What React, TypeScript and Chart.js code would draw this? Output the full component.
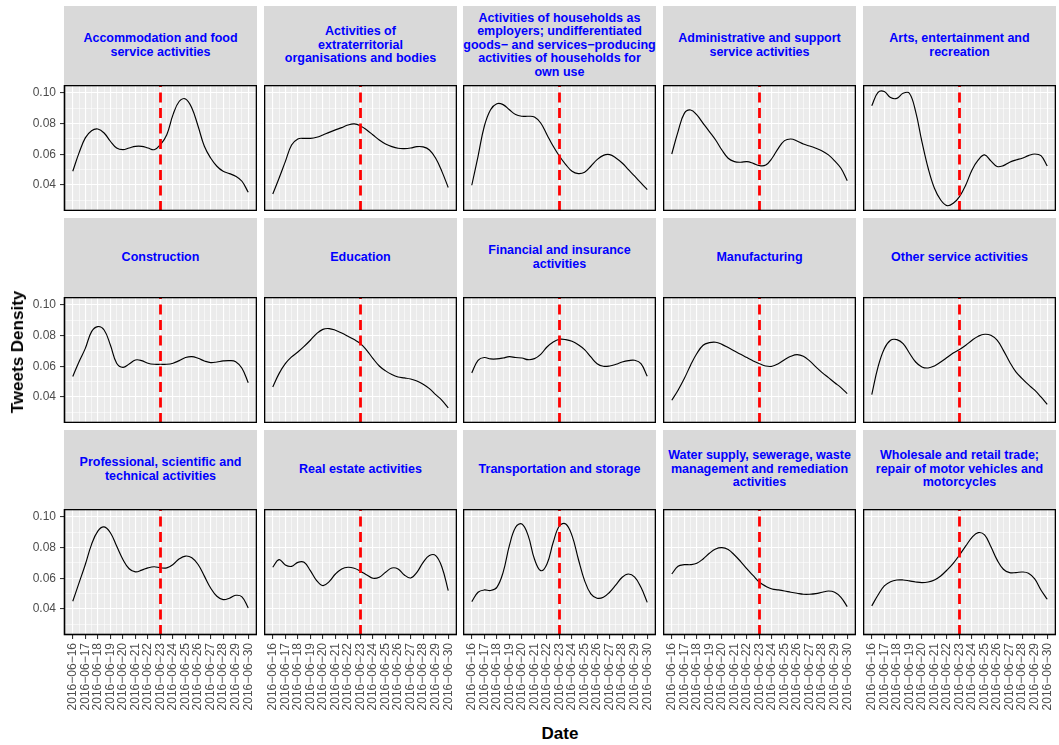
import React, { useEffect, useRef } from "react";
import { Chart, registerables } from "chart.js";

Chart.register(...registerables);

// ---------- data ----------
const days = [16, 16.5, 17, 17.5, 18, 18.5, 19, 19.5, 20, 20.5, 21, 21.5, 22, 22.5, 23, 23.5, 24, 24.5, 25, 25.5, 26, 26.5, 27, 27.5, 28, 28.5, 29, 29.5, 30];
const dateTickDays = [16, 17, 18, 19, 20, 21, 22, 23, 24, 25, 26, 27, 28, 29, 30];
const dateTickLabels = [
  "2016\u221206\u221216", "2016\u221206\u221217", "2016\u221206\u221218", "2016\u221206\u221219", "2016\u221206\u221220",
  "2016\u221206\u221221", "2016\u221206\u221222", "2016\u221206\u221223", "2016\u221206\u221224", "2016\u221206\u221225",
  "2016\u221206\u221226", "2016\u221206\u221227", "2016\u221206\u221228", "2016\u221206\u221229", "2016\u221206\u221230",
];
const referendumDay = 23;
const yMajorTicks = [0.04, 0.06, 0.08, 0.1];
const yMinorTicks = [0.03, 0.05, 0.07, 0.09];

const facetTitles = [
  "Accommodation and food\nservice activities",
  "Activities of\nextraterritorial\norganisations and bodies",
  "Activities of households as\nemployers; undifferentiated\ngoods\u2212 and services\u2212producing\nactivities of households for\nown use",
  "Administrative and support\nservice activities",
  "Arts, entertainment and\nrecreation",
  "Construction",
  "Education",
  "Financial and insurance\nactivities",
  "Manufacturing",
  "Other service activities",
  "Professional, scientific and\ntechnical activities",
  "Real estate activities",
  "Transportation and storage",
  "Water supply, sewerage, waste\nmanagement and remediation\nactivities",
  "Wholesale and retail trade;\nrepair of motor vehicles and\nmotorcycles",
];

const accommodation = [0.0489, 0.0609, 0.0707, 0.0754, 0.0765, 0.0739, 0.0685, 0.0641, 0.063, 0.0641, 0.0652, 0.0652, 0.0641, 0.063, 0.0663, 0.0728, 0.0859, 0.0946, 0.0961, 0.0902, 0.0783, 0.0652, 0.0576, 0.0522, 0.0489, 0.0474, 0.0457, 0.0424, 0.0352];
const extraterritorial = [0.0341, 0.0444, 0.0552, 0.066, 0.07, 0.0704, 0.0704, 0.0711, 0.0726, 0.0743, 0.0759, 0.0774, 0.0791, 0.0798, 0.0785, 0.0759, 0.0726, 0.0693, 0.0667, 0.065, 0.0639, 0.0637, 0.0641, 0.065, 0.0648, 0.0628, 0.0574, 0.0487, 0.0383];
const households = [0.0398, 0.0587, 0.0783, 0.0891, 0.093, 0.0924, 0.0891, 0.0859, 0.0848, 0.0848, 0.0843, 0.0804, 0.0728, 0.0652, 0.0587, 0.0533, 0.0489, 0.0474, 0.0483, 0.0522, 0.0565, 0.0593, 0.0598, 0.0576, 0.0543, 0.05, 0.0457, 0.0413, 0.037];
const administrative = [0.0602, 0.0748, 0.0867, 0.0889, 0.0857, 0.0802, 0.0748, 0.0693, 0.0628, 0.0574, 0.0552, 0.0548, 0.0552, 0.0541, 0.0526, 0.053, 0.0574, 0.0639, 0.0689, 0.07, 0.0687, 0.0667, 0.0654, 0.0639, 0.0622, 0.0596, 0.0557, 0.0509, 0.0428];
const arts = [0.0917, 0.1004, 0.1009, 0.097, 0.0965, 0.0998, 0.0998, 0.0878, 0.0683, 0.0509, 0.0378, 0.0302, 0.0265, 0.028, 0.0324, 0.04, 0.0498, 0.0563, 0.0596, 0.0557, 0.052, 0.0526, 0.0548, 0.0563, 0.0574, 0.0591, 0.0602, 0.0591, 0.0524];
const construction = [0.0533, 0.063, 0.0717, 0.0826, 0.0859, 0.0837, 0.0739, 0.062, 0.0593, 0.0615, 0.0641, 0.0637, 0.062, 0.0613, 0.0613, 0.0613, 0.062, 0.0637, 0.0657, 0.0663, 0.0652, 0.0635, 0.0624, 0.0628, 0.0635, 0.0637, 0.063, 0.0587, 0.0493];
const education = [0.0465, 0.0552, 0.0617, 0.0661, 0.0693, 0.073, 0.077, 0.0813, 0.0841, 0.0846, 0.0835, 0.0817, 0.0796, 0.0774, 0.0748, 0.0704, 0.065, 0.0602, 0.057, 0.0546, 0.053, 0.0524, 0.0517, 0.0504, 0.0483, 0.0454, 0.0415, 0.0378, 0.0328];
const financial = [0.0557, 0.0639, 0.0657, 0.0648, 0.0648, 0.0654, 0.0663, 0.0657, 0.0654, 0.0643, 0.065, 0.0678, 0.0726, 0.0759, 0.0776, 0.0774, 0.0763, 0.0741, 0.0709, 0.0661, 0.0617, 0.06, 0.0602, 0.0613, 0.0628, 0.0637, 0.0639, 0.0617, 0.0535];
const manufacturing = [0.0378, 0.0444, 0.052, 0.0607, 0.0683, 0.0737, 0.0754, 0.0757, 0.0743, 0.0722, 0.07, 0.0678, 0.0657, 0.0635, 0.0617, 0.0602, 0.06, 0.0617, 0.0643, 0.0665, 0.0676, 0.0665, 0.0635, 0.0596, 0.0559, 0.0526, 0.0493, 0.0461, 0.0422];
const otherServices = [0.0415, 0.0596, 0.0715, 0.077, 0.0774, 0.0748, 0.0687, 0.0628, 0.0596, 0.0589, 0.0602, 0.0628, 0.0657, 0.0687, 0.0709, 0.0737, 0.077, 0.0796, 0.0809, 0.0802, 0.077, 0.0704, 0.0628, 0.0563, 0.052, 0.048, 0.0444, 0.04, 0.0352];
const professional = [0.045, 0.057, 0.069, 0.0821, 0.0908, 0.0935, 0.0897, 0.081, 0.0723, 0.0662, 0.0642, 0.0653, 0.0668, 0.0675, 0.0668, 0.0668, 0.069, 0.0727, 0.0745, 0.0734, 0.069, 0.0614, 0.0537, 0.0483, 0.0461, 0.047, 0.0489, 0.0479, 0.0407];
const realEstate = [0.0672, 0.0722, 0.0687, 0.0678, 0.0704, 0.0704, 0.065, 0.0585, 0.0552, 0.0578, 0.0628, 0.0661, 0.0672, 0.0665, 0.0646, 0.0622, 0.06, 0.0607, 0.0639, 0.0667, 0.0661, 0.0622, 0.0602, 0.0639, 0.0704, 0.0748, 0.0748, 0.0672, 0.052];
const transportation = [0.0448, 0.0509, 0.0524, 0.052, 0.0541, 0.0639, 0.0813, 0.0933, 0.0954, 0.0878, 0.0726, 0.065, 0.0693, 0.0835, 0.0943, 0.0954, 0.0878, 0.0726, 0.0585, 0.0498, 0.047, 0.0476, 0.0509, 0.0557, 0.0607, 0.0628, 0.0607, 0.0541, 0.0443];
const water = [0.0628, 0.0678, 0.0689, 0.0689, 0.0698, 0.0726, 0.0763, 0.0791, 0.08, 0.0787, 0.0752, 0.0709, 0.0661, 0.0617, 0.0574, 0.0548, 0.053, 0.0524, 0.0517, 0.0509, 0.0502, 0.0496, 0.0496, 0.05, 0.0509, 0.0517, 0.0509, 0.0476, 0.0415];
const wholesale = [0.042, 0.0491, 0.055, 0.0578, 0.0589, 0.0589, 0.0583, 0.0576, 0.0572, 0.0576, 0.0589, 0.0615, 0.0654, 0.0698, 0.0752, 0.0811, 0.0867, 0.0898, 0.0883, 0.0807, 0.072, 0.0659, 0.0637, 0.0637, 0.0641, 0.0633, 0.0596, 0.0524, 0.0463];

const seriesList = [
  accommodation, extraterritorial, households, administrative, arts,
  construction, education, financial, manufacturing, otherServices,
  professional, realEstate, transportation, water, wholesale,
];

// ---------- layout ----------
const FONT = '"Liberation Sans", Arial, Helvetica, sans-serif';
const COL_LEFT = [64, 264, 463, 663, 863];
const STRIP_TOP = [6, 218, 430];
const STRIP_H = 79;
const PANEL_W = 193;
const PANEL_H = 126;
const Y_AXIS_W = 40;
const X_AXIS_H = 80;
const X_MIN = 15.3;
const X_MAX = 30.7;
const Y_MIN = 0.023;
const Y_MAX = 0.1052;

const isYMajor = (v: number) => yMajorTicks.some((t) => Math.abs(t - v) < 1e-9);
const isXMajor = (v: number) => Math.abs(v - Math.round(v)) < 1e-9;

const panelPlugin = {
  id: "panelDecor",
  beforeDraw(chart: any) {
    const { ctx, chartArea } = chart;
    ctx.save();
    ctx.fillStyle = "#EBEBEB";
    ctx.fillRect(chartArea.left, chartArea.top, chartArea.right - chartArea.left, chartArea.bottom - chartArea.top);
    ctx.restore();
  },
  afterDraw(chart: any) {
    const { ctx, chartArea } = chart;
    ctx.save();
    ctx.strokeStyle = "#000000";
    ctx.lineWidth = 1.6;
    ctx.strokeRect(chartArea.left + 0.5, chartArea.top + 0.5, chartArea.right - chartArea.left - 1, chartArea.bottom - chartArea.top - 1);
    ctx.restore();
  },
};

function Panel({ index }: { index: number }) {
  const ref = useRef<HTMLCanvasElement | null>(null);
  const row = Math.floor(index / 5);
  const col = index % 5;
  const isLeft = col === 0;
  const isBottom = row === 2;
  const axisW = isLeft ? Y_AXIS_W : 0;
  const axisH = isBottom ? X_AXIS_H : 0;
  const width = PANEL_W + axisW;
  const height = PANEL_H + axisH;
  const left = COL_LEFT[col] - axisW;
  const top = STRIP_TOP[row] + STRIP_H;

  useEffect(() => {
    if (!ref.current) return;
    const values = seriesList[index];
    const chart = new Chart(ref.current, {
      type: "line",
      data: {
        datasets: [
          {
            data: [
              { x: referendumDay, y: Y_MIN },
              { x: referendumDay, y: Y_MAX },
            ],
            borderColor: "#FF0000",
            borderWidth: 2.8,
            borderDash: [10, 5.5],
            pointRadius: 0,
            fill: false,
            tension: 0,
          },
          {
            data: days.map((d, i) => ({ x: d, y: values[i] })),
            borderColor: "#000000",
            borderWidth: 1.15,
            pointRadius: 0,
            fill: false,
            tension: 0.4,
          },
        ],
      },
      options: {
        animation: false,
        responsive: false,
        maintainAspectRatio: false,
        events: [],
        layout: { padding: 0 },
        plugins: { legend: { display: false }, tooltip: { enabled: false } },
        scales: {
          x: {
            type: "linear",
            min: X_MIN,
            max: X_MAX,
            position: "bottom",
            afterBuildTicks: (s: any) => {
              s.ticks = days.map((v) => ({ value: v }));
            },
            afterFit: (s: any) => {
              s.height = axisH;
              s.paddingLeft = 0;
              s.paddingRight = 0;
              s.paddingTop = 0;
              s.paddingBottom = 0;
            },
            border: { display: false },
            grid: {
              color: "#FFFFFF",
              lineWidth: (c: any) => (c.tick && isXMajor(c.tick.value) ? 1.1 : 0.55),
              drawTicks: isBottom,
              tickLength: 4,
              tickWidth: 1.1,
              tickColor: (c: any) => (c.tick && isXMajor(c.tick.value) ? "#333333" : "rgba(0,0,0,0)"),
            },
            ticks: {
              display: isBottom,
              autoSkip: false,
              minRotation: 90,
              maxRotation: 90,
              padding: 4,
              color: "#4D4D4D",
              font: { family: FONT, size: 12 },
              callback: (v: any) => {
                const i = dateTickDays.indexOf(Number(v));
                return i >= 0 ? dateTickLabels[i] : "";
              },
            },
          },
          y: {
            type: "linear",
            min: Y_MIN,
            max: Y_MAX,
            afterBuildTicks: (s: any) => {
              s.ticks = [...yMinorTicks, ...yMajorTicks].sort((a, b) => a - b).map((v) => ({ value: v }));
            },
            afterFit: (s: any) => {
              s.width = axisW;
              s.paddingLeft = 0;
              s.paddingRight = 0;
              s.paddingTop = 0;
              s.paddingBottom = 0;
            },
            border: { display: false },
            grid: {
              color: "#FFFFFF",
              lineWidth: (c: any) => (c.tick && isYMajor(c.tick.value) ? 1.1 : 0.55),
              drawTicks: isLeft,
              tickLength: 4,
              tickWidth: 1.1,
              tickColor: (c: any) => (c.tick && isYMajor(c.tick.value) ? "#333333" : "rgba(0,0,0,0)"),
            },
            ticks: {
              display: isLeft,
              autoSkip: false,
              padding: 4,
              color: "#4D4D4D",
              font: { family: FONT, size: 12 },
              callback: (v: any) => (isYMajor(Number(v)) ? Number(v).toFixed(2) : ""),
            },
          },
        },
      },
      plugins: [panelPlugin],
    } as any);
    return () => chart.destroy();
  }, [index]);

  return (
    <>
      <div
        style={{
          position: "absolute",
          left: COL_LEFT[col],
          top: STRIP_TOP[row],
          width: PANEL_W,
          height: STRIP_H,
          background: "#D9D9D9",
          display: "flex",
          alignItems: "center",
          justifyContent: "center",
          textAlign: "center",
          whiteSpace: "pre",
          fontFamily: FONT,
          fontWeight: "bold",
          fontSize: "12.5px",
          lineHeight: "13.5px",
          color: "#0000FF",
          overflow: "visible",
        }}
      >
        {facetTitles[index]}
      </div>
      <canvas
        ref={ref}
        width={width}
        height={height}
        style={{ position: "absolute", left, top, width, height }}
      />
    </>
  );
}

export default function App() {
  return (
    <div
      style={{
        position: "absolute",
        left: 0,
        top: 0,
        width: 1059,
        height: 745,
        background: "#FFFFFF",
        overflow: "hidden",
      }}
    >
      {facetTitles.map((_, i) => (
        <Panel key={i} index={i} />
      ))}
      <div
        style={{
          position: "absolute",
          left: 18,
          top: 352,
          transform: "translate(-50%, -50%) rotate(-90deg)",
          whiteSpace: "nowrap",
          fontFamily: FONT,
          fontWeight: "bold",
          fontSize: "17px",
          color: "#000000",
        }}
      >
        Tweets Density
      </div>
      <div
        style={{
          position: "absolute",
          left: 560,
          top: 734,
          transform: "translate(-50%, -50%)",
          whiteSpace: "nowrap",
          fontFamily: FONT,
          fontWeight: "bold",
          fontSize: "17px",
          color: "#000000",
        }}
      >
        Date
      </div>
    </div>
  );
}
